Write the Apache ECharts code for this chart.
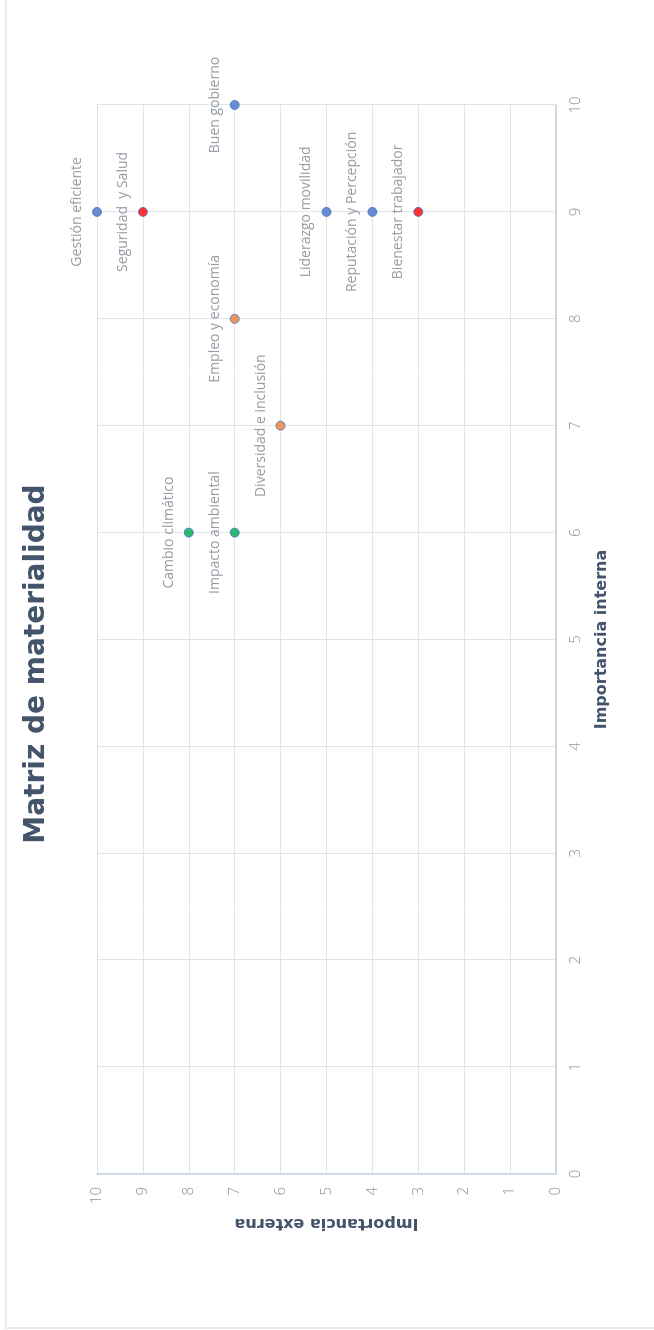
<!DOCTYPE html>
<html>
<head>
<meta charset="utf-8">
<script src="https://cdn.jsdelivr.net/npm/echarts@6/dist/echarts.min.js"></script>
<style>
  html, body { margin: 0; padding: 0; background: #ffffff; overflow: hidden; width: 654px; height: 1330px; }
  #chart {
    position: absolute; left: 0; top: 0;
    width: 1330px; height: 654px;
    transform-origin: 0 0;
    transform: translate(0, 1330px) rotate(-90deg);
  }
</style>
</head>
<body>
<div id="chart"></div>
<script>
// ---- data ----
const temas = ['Buen gobierno', 'Gestión eficiente', 'Seguridad  y Salud', 'Liderazgo movilidad',
  'Reputación y Percepción', 'Bienestar trabajador', 'Empleo y economía',
  'Diversidad e inclusión', 'Cambio climático', 'Impacto ambiental'];
const importanciaInterna = [10, 9, 9, 9, 9, 9, 8, 7, 6, 6];
const importanciaExterna = [7, 10, 9, 5, 4, 3, 7, 6, 8, 7];
const grupo = [0, 0, 1, 0, 0, 1, 2, 2, 3, 3];
const tickValues = [0, 1, 2, 3, 4, 5, 6, 7, 8, 9, 10];
const tituloGrafico = 'Matriz de materialidad';
const tituloEjeX = 'Importancia interna';
const tituloEjeY = 'Importancia externa';

// ---- styles ----
const palette = ['#4472C4', '#FF0000', '#ED7D31', '#00A651'];
const titleColor = '#44546A';
const tickColor = '#8a93a2';
const labelColor = '#7c8490';
const gridColor = '#e0e5ec';
const axisColor = '#c6d0dd';

const chart = echarts.init(document.getElementById('chart'), null, { renderer: 'canvas' });

const data = temas.map((t, i) => ({
  name: t,
  value: [importanciaInterna[i], importanciaExterna[i]],
  itemStyle: { color: palette[grupo[i]] }
}));

const axisCommon = {
  type: 'value',
  min: tickValues[0],
  max: tickValues[tickValues.length - 1],
  interval: 1,
  axisTick: { show: false },
  axisLine: { show: true, lineStyle: { color: axisColor, width: 1.5 } },
  splitLine: { show: true, lineStyle: { color: gridColor, width: 1 } },
  nameLocation: 'middle',
  nameTextStyle: { color: titleColor, fontFamily: 'DejaVu Sans', fontWeight: 'bold', fontSize: 16 },
  axisLabel: { color: tickColor, fontFamily: 'Open Sans', fontWeight: 300, fontSize: 15 }
};

chart.setOption({
  animation: false,
  backgroundColor: '#ffffff',
  graphic: [
    {
      type: 'rect', silent: true, z: -1,
      shape: { x: 2, y: 6, width: 1400, height: 700 },
      style: { fill: 'none', stroke: '#dfe4ea', lineWidth: 1.5 }
    },
    {
      type: 'text', x: 666, y: 37,
      style: {
        text: tituloGrafico, fill: titleColor,
        font: 'bold 28px "DejaVu Sans"',
        textAlign: 'center', textVerticalAlign: 'middle'
      }
    }
  ],
  grid: { left: 156, right: 105, top: 97, bottom: 98, containLabel: false },
  xAxis: Object.assign({}, axisCommon, {
    name: tituloEjeX, nameGap: 38,
    axisLabel: Object.assign({}, axisCommon.axisLabel, { margin: 12 })
  }),
  yAxis: Object.assign({}, axisCommon, {
    name: tituloEjeY, nameGap: 40,
    axisLabel: Object.assign({}, axisCommon.axisLabel, { margin: 13 })
  }),
  series: [{
    type: 'scatter',
    symbol: 'circle',
    symbolSize: 9,
    itemStyle: { borderColor: '#4472C4', borderWidth: 1 },
    label: {
      show: true,
      position: 'top',
      distance: 8,
      formatter: p => p.name,
      color: labelColor,
      fontFamily: 'Open Sans',
      fontWeight: 400,
      fontSize: 14
    },
    data: data
  }]
});
</script>
</body>
</html>
